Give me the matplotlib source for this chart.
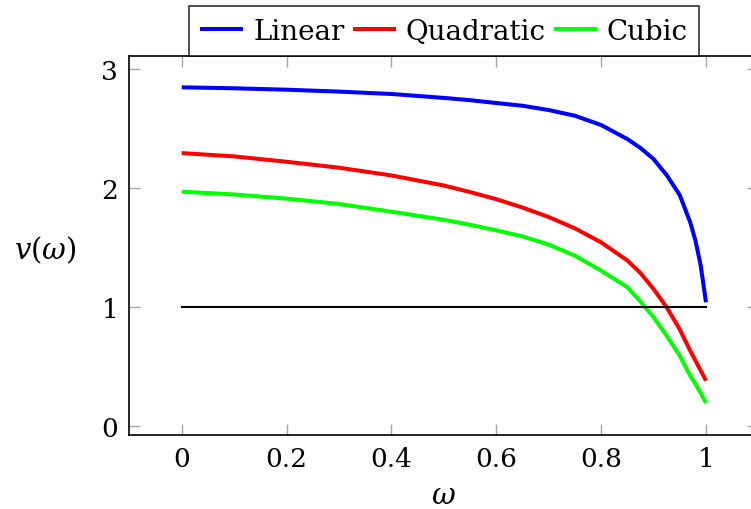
import matplotlib
matplotlib.use("Agg")
import matplotlib.pyplot as plt

# ---- data ----
omega = [0.0, 0.1, 0.2, 0.3, 0.4, 0.5, 0.55, 0.6, 0.65, 0.7, 0.75, 0.8, 0.85,
         0.875, 0.9, 0.925, 0.95, 0.97, 0.98, 0.99, 1.0]
v_linear = [2.846, 2.838, 2.826, 2.81, 2.79, 2.757, 2.738, 2.714, 2.691, 2.655, 2.607, 2.529, 2.411,
            2.336, 2.243, 2.108, 1.94, 1.71, 1.556, 1.346, 1.038]
v_quadratic = [2.293, 2.265, 2.22, 2.17, 2.105, 2.02, 1.965, 1.905, 1.835, 1.755, 1.66, 1.542, 1.39,
               1.284, 1.15, 0.996, 0.81, 0.63, 0.547, 0.463, 0.379]
v_cubic = [1.968, 1.945, 1.91, 1.865, 1.80, 1.732, 1.69, 1.643, 1.592, 1.523, 1.43, 1.304, 1.165,
           1.045, 0.912, 0.757, 0.589, 0.42, 0.351, 0.275, 0.191]
ref_x = [0.0, 1.0]
ref_y = [1.0, 1.0]

series_names = ["Linear", "Quadratic", "Cubic"]
series_colors = ["#0000ff", "#ff0000", "#00ff00"]
xticks = [0, 0.2, 0.4, 0.6, 0.8, 1]
xtick_labels = ["0", "0.2", "0.4", "0.6", "0.8", "1"]
yticks = [0, 1, 2, 3]

plt.rcParams["font.family"] = ["DejaVu Serif"]
plt.rcParams["mathtext.fontset"] = "dejavuserif"

fig = plt.figure(figsize=(7.51, 5.10), dpi=100)
# right spine lies just outside the picture, as in the reference
ax = fig.add_axes([129.3 / 751, 1 - 436 / 510, (758.4 - 129.3) / 751, (436 - 56.7) / 510])

for ys, name, col in zip([v_linear, v_quadratic, v_cubic], series_names, series_colors):
    ax.plot(omega, ys, color=col, lw=2.9, label=name, solid_capstyle="butt",
            solid_joinstyle="round")
ax.plot(ref_x, ref_y, color="black", lw=1.5)

ax.set_xlim(-0.1, 1.1)
ax.set_ylim(-0.078, 3.112)
ax.set_xticks(xticks)
ax.set_xticklabels(xtick_labels)
ax.set_yticks(yticks)

ax.tick_params(direction="in", top=True, right=True, length=8, width=1.0,
               color="#a6a6a6", labelsize=19)
ax.tick_params(axis="x", pad=8)
ax.tick_params(axis="y", pad=8)
for s in ax.spines.values():
    s.set_linewidth(1.2)

ax.set_xlabel(r"$\omega$", fontsize=21, va="center")
ax.xaxis.set_label_coords(0.5, -0.158)
ax.set_ylabel(r"$v(\omega)$", fontsize=21, rotation=0, ha="center", va="center")
ax.yaxis.set_label_coords(-0.134, 0.49)

leg = ax.legend(loc="lower center", bbox_to_anchor=(0.5, 1.0), ncol=3,
                fontsize=20, frameon=True, fancybox=False, edgecolor="black",
                handlelength=1.55, handletextpad=0.35, columnspacing=0.3,
                borderpad=0.4, borderaxespad=0)
leg.get_frame().set_linewidth(1.2)

fig.savefig("out.png", dpi=100)
